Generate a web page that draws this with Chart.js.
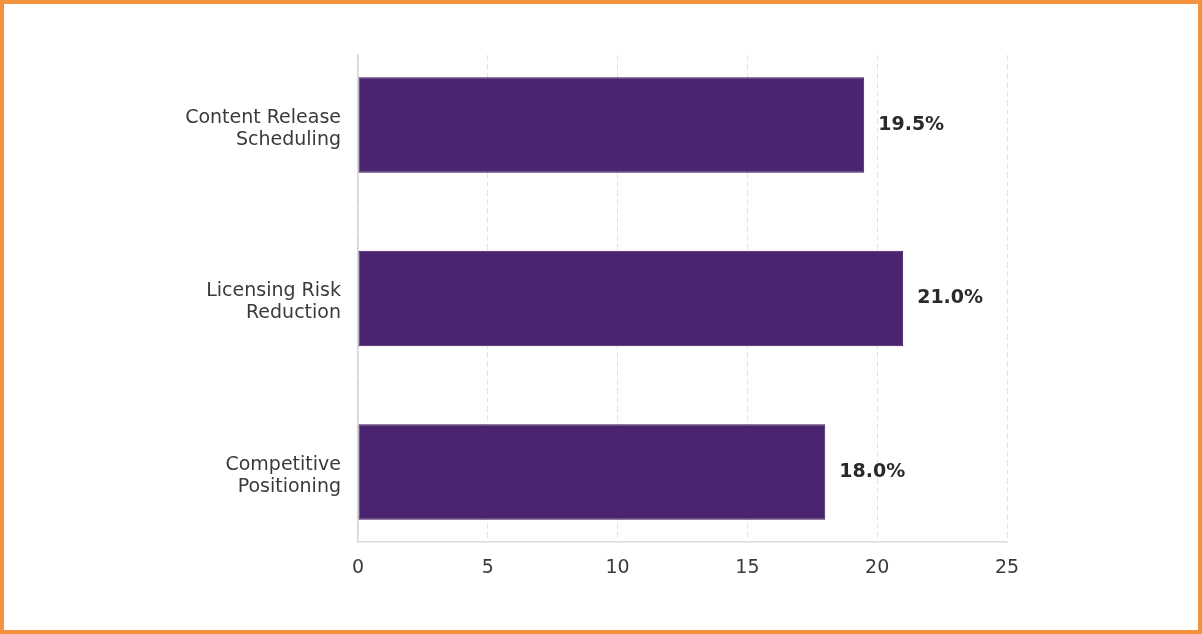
<!DOCTYPE html>
<html>
<head>
<meta charset="utf-8">
<script src="https://cdn.jsdelivr.net/npm/chart.js@4/dist/chart.umd.min.js"></script>
<style>
    html, body { margin: 0; padding: 0; background: #fff; }
    #frame {
        width: 1202px; height: 634px; box-sizing: border-box;
        border: 4px solid #f5923e; background: #fff;
    }
    #chart { display: block; }
</style>
</head>
<body>
<div id="frame"><canvas id="chart" width="1194" height="626"></canvas></div>
<script>
const categories = [
    ["Content Release", "Scheduling"],
    ["Licensing Risk", "Reduction"],
    ["Competitive", "Positioning"]
];
const shares = [19.5, 21.0, 18.0];
const xTicks = [0, 5, 10, 15, 20, 25];

const textColor = '#3a3a3a';
const axisColor = '#d9d9d9';

const valueLabels = {
    id: 'valueLabels',
    afterDatasetsDraw(chart) {
        const ctx = chart.ctx;
        const meta = chart.getDatasetMeta(0);
        ctx.save();
        ctx.font = 'bold 19px "DejaVu Sans"';
        ctx.fillStyle = '#2a2a2a';
        ctx.textAlign = 'left';
        ctx.textBaseline = 'middle';
        meta.data.forEach((bar, i) => {
            ctx.fillText(shares[i].toFixed(1) + '%', bar.x + 14, bar.y);
        });
        ctx.restore();
    }
};

new Chart(document.getElementById('chart').getContext('2d'), {
    type: 'bar',
    data: {
        datasets: [{
            data: shares.map((v, i) => ({ x: v, y: i })),
            backgroundColor: '#4b2470',
            borderColor: '#3a1a5e',
            borderWidth: 1,
            borderSkipped: false,
            categoryPercentage: 1,
            barPercentage: 0.55
        }]
    },
    options: {
        indexAxis: 'y',
        responsive: false,
        animation: false,
        events: [],
        layout: { padding: { top: 51, right: 191, left: 0, bottom: 0 } },
        plugins: { legend: { display: false }, tooltip: { enabled: false } },
        scales: {
            x: {
                type: 'linear',
                min: xTicks[0],
                max: xTicks[xTicks.length - 1],
                afterBuildTicks(scale) { scale.ticks = xTicks.map(v => ({ value: v })); },
                afterFit(scale) { scale.height = 88; },
                grid: { color: '#e4e4e4', lineWidth: 1, drawTicks: false },
                border: { display: true, color: axisColor, width: 1.5, dash: [6, 3] },
                ticks: {
                    color: textColor,
                    padding: 15,
                    font: { family: '"DejaVu Sans"', size: 19 }
                }
            },
            y: {
                type: 'linear',
                reverse: true,
                offset: false,
                min: -0.4025,
                max: 2.4025,
                afterBuildTicks(scale) { scale.ticks = categories.map((c, i) => ({ value: i })); },
                afterFit(scale) { scale.width = 354; },
                grid: { display: false, drawTicks: false, offset: false },
                border: { display: true, color: axisColor, width: 1.5 },
                ticks: {
                    color: textColor,
                    padding: 17,
                    labelOffset: 4,
                    font: { family: '"DejaVu Sans"', size: 19, lineHeight: 1.16 },
                    callback: (v) => categories[v]
                }
            }
        }
    },
    plugins: [valueLabels]
});
</script>
</body>
</html>
